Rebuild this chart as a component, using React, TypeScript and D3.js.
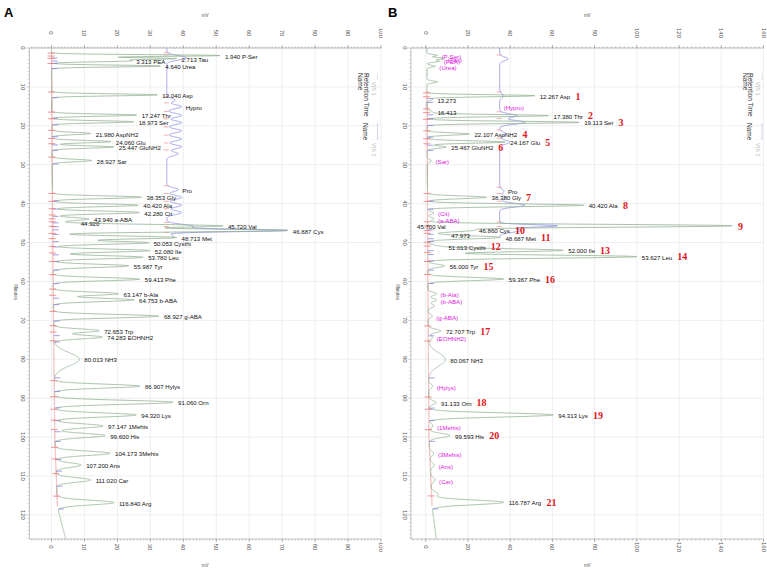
import React from "react";
import * as d3 from "d3";

// ---------- panel A : amino acid standard (VIS 1 peaks) ----------
const timesA = [1.94, 2.713, 3.313, 4.64, 12.04, 17.247, 18.973, 21.98, 24.06, 25.447, 28.927, 38.353, 40.42, 42.28, 43.94, 44.92, 45.72, 46.887, 48.713, 50.053, 52.08, 53.78, 55.987, 59.413, 63.147, 64.753, 68.927, 72.653, 74.283, 80.013, 86.907, 91.06, 94.32, 97.147, 99.6, 104.173, 107.2, 111.02, 116.84];
const namesA = ["P-Ser", "Tau", "PEA", "Urea", "Asp", "Thr", "Ser", "AspNH2", "Glu", "GluNH2", "Sar", "Gly", "Ala", "Cit", "a-ABA", "", "Val", "Cys", "Met", "Cysthi", "Ile", "Leu", "Tyr", "Phe", "b-Ala", "b-ABA", "g-ABA", "Trp", "EOHNH2", "NH3", "Hylys", "Orn", "Lys", "1Mehis", "His", "3Mehis", "Ans", "Car", "Arg"];
const heightsA = [51, 37, 23, 33, 32, 25.7, 24.8, 11.7, 17.8, 18.7, 12, 27, 26, 26.3, 11, 2, 51, 71, 37.5, 29, 29.4, 27.4, 23, 26.3, 19.8, 24.5, 32, 13.8, 14.7, 7.7, 26, 36, 24.8, 14.7, 15.3, 16.6, 7.7, 10.4, 17.2];

// VIS 2 channel of A
const timesVisA = [2.2, 2.75, 13.4, 15.1, 17.3, 19.2, 21.3, 23.4, 25.4, 27.2, 36.4, 38.4, 40.4, 42.3, 45.8, 46.9, 48.4];
const heightsVisA = [3, 4, 2.5, 4.5, 4.5, 4.5, 4.5, 4.5, 4.5, 3.5, 3.5, 4.5, 4.5, 4.5, 8, 36, 2];
const namesVisA = ["", "", "", "Hypro", "", "", "", "", "", "", "Pro", "", "", "", "", "", ""];

// baseline drift of A
const driftTimesA = [0, 60, 100, 118, 126.2];
const driftA = [0, 0.5, 1.0, 1.8, 4.3];

// ---------- panel B : sample ----------
const timesB = [12.267, 13.273, 16.413, 17.38, 19.113, 22.107, 24.167, 25.467, 38.38, 40.42, 45.7, 46.86, 47.973, 48.687, 51.013, 52.0, 53.627, 56.0, 59.367, 72.707, 80.067, 91.133, 94.313, 99.593, 116.787];
const namesB = ["Asp", "", "", "Thr", "Ser", "AspNH2", "Glu", "GluNH2", "Gly", "Ala", "Val", "Cys", "", "Met", "Cysthi", "Ile", "Leu", "Tyr", "Phe", "Trp", "NH3", "Orn", "Lys", "His", "Arg"];
const heightsB = [51, 2.5, 2.5, 57.5, 72, 20, 37, 9, 28, 74, 144, 21, 3, 34, 5, 64, 99, 8, 36, 6, 8, 3.5, 59, 10, 34];
const peakNoB = [1, 0, 0, 2, 3, 4, 5, 6, 7, 8, 9, 10, 0, 11, 12, 13, 14, 15, 16, 17, 0, 18, 19, 20, 21];

// small unlabelled bumps of B
const timesMinorB = [1.9, 2.7, 3.4, 4.7, 8.7, 29.0, 42.4, 43.9, 63.2, 64.8, 66.3, 68.9, 74.4, 86.9, 97.1, 104.2, 107.2, 111.0, 114.6];
const heightsMinorB = [5, 8, 6, 4, 5, 2, 3, 3, 4, 4, 3, 2, 2, 2, 2, 2, 2, 2, 3];

// compounds not found in B
const missingNamesB = ["P-Ser", "Tau", "PEA", "Urea", "Hypro", "Sar", "Cit", "a-ABA", "b-Ala", "b-ABA", "g-ABA", "EOHNH2", "Hylys", "1Mehis", "3Mehis", "Ans", "Car"];
const missingTimesB = [1.94, 2.713, 3.313, 4.64, 15.0, 28.927, 42.28, 43.94, 63.147, 64.753, 68.927, 74.283, 86.907, 97.147, 104.173, 107.2, 111.02];
const missingOnVisB = ["Hypro"];

// VIS 2 channel of B
const timesVisB = [2.8, 12.3, 17.4, 19.1, 22.1, 24.2, 36.8, 38.4, 40.4, 45.7, 46.9];
const heightsVisB = [4, 2, 8, 12, 3, 5, 2, 3, 12, 27, 10];
const namesVisB = ["", "", "", "", "", "", "Pro", "", "", "", ""];

const driftTimesB = [0, 60, 100, 118, 126.2];
const driftB = [0.5, 1, 1.5, 3, 5];

// label placed left of the axis instead of beside its apex
const leftLabelsB = ["Val"];

const VIS_OFFSET = 35;
const yT = d3.scaleLinear().domain([0, 126.2]).range([48, 539]);
const samples = d3.range(0, 126.2, 0.02);

type Peak = { t: number; h: number; name: string; no?: number };
type SigmaFn = (p: Peak) => number;

// VIS 1 peaks sharpen early and broaden later; NH3 is a wide hump
const sigmaVis1: SigmaFn = (p) => (p.name === "NH3" ? 1.7 : 0.22 + 0.0032 * p.t);
// VIS 2 is a slow ripple apart from its big peaks
const sigmaVis2: SigmaFn = (p) => (p.h > 20 ? 0.3 : 0.48);

const sumPeaks = (ps: Peak[], sig: SigmaFn, t: number) =>
  ps.reduce((s, p) => {
    const s2 = sig(p);
    const d = t - p.t;
    return Math.abs(d) > 6 * s2 ? s : s + p.h * Math.exp(-(d * d) / (2 * s2 * s2));
  }, 0);

let ctx: CanvasRenderingContext2D | null = null;
function textW(s: string, size: number) {
  if (!ctx && typeof document !== "undefined") ctx = document.createElement("canvas").getContext("2d");
  if (!ctx) return s.length * size * 0.5;
  ctx.font = `${size}px "Liberation Sans"`;
  return ctx.measureText(s).width;
}

type PanelProps = {
  id: string;
  letter: string;
  x: d3.ScaleLinear<number, number>;
  xStep: number;
  xMinor: number;
  clipX: [number, number];
  legendRight: number;
  peaks: Peak[];
  minor: Peak[];
  vis: Peak[];
  visEnd: number;
  drift: d3.ScaleLinear<number, number>;
  missing: { t: number; name: string; onVis: boolean }[];
  numbered: boolean;
};

function Panel(p: PanelProps) {
  const { x } = p;
  const [x0, x1] = x.range();
  const [y0, y1] = yT.range();
  const all = p.peaks.concat(p.minor);
  const green = (t: number) => p.drift(t) + sumPeaks(all, sigmaVis1, t);
  const blue = (t: number) => VIS_OFFSET + sumPeaks(p.vis, sigmaVis2, t);
  const line = (f: (t: number) => number) => d3.line<number>().x((t) => x(f(t))).y((t) => yT(t));

  const dom = x.domain();
  const major = d3.range(0, dom[1] + 0.01, p.xStep);
  const minor = d3.range(Math.ceil(dom[0] / p.xMinor) * p.xMinor, dom[1] + 0.01, p.xMinor);
  const tMajor = d3.range(0, 121, 10);
  const tMinor = d3.range(0, 126.2, 1);
  const font = "'Liberation Sans', Arial, sans-serif";
  const lsz = 6.1;
  const visSamples = samples.filter((t) => t <= p.visEnd);
  const baseStart = p.peaks[0].t - 1.2;
  const baseEnd = p.peaks[p.peaks.length - 1].t + 1;
  const baseT = samples.filter((t) => t >= baseStart && t <= baseEnd);
  const cx = (x0 + x1) / 2;
  const left = new Set(leftLabelsB);

  return (
    <g>
      <defs>
        <clipPath id={"clip" + p.id}>
          <rect x={p.clipX[0]} y={0} width={p.clipX[1] - p.clipX[0]} height={573} />
        </clipPath>
      </defs>
      <text x={p.clipX[0] + 4} y={17} fontFamily={font} fontWeight="bold" fontSize={13}>
        {p.letter}
      </text>
      <g clipPath={`url(#clip${p.id})`}>
        {/* grid */}
        {major.map((v) => (
          <line key={"gx" + v} x1={x(v)} x2={x(v)} y1={y0} y2={y1} stroke="#e4e4e4" strokeWidth={0.6} />
        ))}
        {tMajor.map((v) => (
          <line key={"gy" + v} x1={x0} x2={x1} y1={yT(v)} y2={yT(v)} stroke="#e4e4e4" strokeWidth={0.6} />
        ))}
        {/* axes */}
        <line x1={x0} x2={x1} y1={y0} y2={y0} stroke="#999" strokeWidth={0.6} />
        <line x1={x0} x2={x1} y1={y1} y2={y1} stroke="#999" strokeWidth={0.6} />
        <line x1={x0} x2={x0} y1={y0} y2={y1} stroke="#999" strokeWidth={0.6} />
        {minor.map((v) => (
          <g key={"mx" + v}>
            <line x1={x(v)} x2={x(v)} y1={y0} y2={y0 - 1.5} stroke="#999" strokeWidth={0.5} />
            <line x1={x(v)} x2={x(v)} y1={y1} y2={y1 + 1.5} stroke="#999" strokeWidth={0.5} />
          </g>
        ))}
        {major.map((v) => (
          <g key={"tx" + v} fill="#555" fontFamily={font} fontSize={6}>
            <line x1={x(v)} x2={x(v)} y1={y0} y2={y0 - 3} stroke="#888" strokeWidth={0.6} />
            <line x1={x(v)} x2={x(v)} y1={y1} y2={y1 + 3} stroke="#888" strokeWidth={0.6} />
            <text transform={`translate(${x(v)},33) rotate(90)`} textAnchor="middle" dominantBaseline="central">
              {v}
            </text>
            <text transform={`translate(${x(v)},547) rotate(90)`} textAnchor="middle" dominantBaseline="central">
              {v}
            </text>
          </g>
        ))}
        {tMinor.map((v) => (
          <line key={"mt" + v} x1={x0} x2={x0 - (v % 10 === 0 ? 3 : 1.5)} y1={yT(v)} y2={yT(v)} stroke="#999" strokeWidth={0.5} />
        ))}
        {tMajor.map((v) => (
          <text key={"tt" + v} transform={`translate(${x0 - 6},${yT(v)}) rotate(90)`} textAnchor="middle" dominantBaseline="central" fill="#555" fontFamily={font} fontSize={6}>
            {v}
          </text>
        ))}
        <text x={cx} y={17} textAnchor="middle" fontFamily={font} fontSize={4.5} fill="#555">mV</text>
        <text x={cx} y={567} textAnchor="middle" fontFamily={font} fontSize={4.5} fill="#555">mV</text>
        <text transform={`translate(${x0 - 15},292) rotate(90)`} textAnchor="middle" fontFamily={font} fontSize={4.5} fill="#555">
          Minutes
        </text>

        {/* legend */}
        <g fontFamily={font} fontSize={6.5} fill="#333">
          <text transform={`translate(${p.legendRight - 16},73) rotate(90)`} dominantBaseline="hanging">Name</text>
          <text transform={`translate(${p.legendRight - 10.5},73) rotate(90)`} dominantBaseline="hanging">Retention Time</text>
          <line x1={p.legendRight - 1.5} x2={p.legendRight - 1.5} y1={73} y2={80} stroke="#ccc" strokeWidth={0.6} />
          <text transform={`translate(${p.legendRight - 3.5},82) rotate(90)`} dominantBaseline="hanging" fill="#bbb" fontSize={5.5}>VIS 1</text>
          <text transform={`translate(${p.legendRight - 11.5},123) rotate(90)`} dominantBaseline="hanging">Name</text>
          <line x1={p.legendRight - 1.5} x2={p.legendRight - 1.5} y1={123} y2={140} stroke="#b8b8e8" strokeWidth={0.6} />
          <text transform={`translate(${p.legendRight - 3.5},143) rotate(90)`} dominantBaseline="hanging" fill="#bbb" fontSize={5.5}>VIS 2</text>
        </g>

        {/* VIS 2 trace */}
        <path d={line(blue)(visSamples) ?? ""} fill="none" stroke="#8a8ae6" strokeWidth={0.8} />
        {p.vis.map((v, i) => (
          <line key={"vm" + i} x1={x(VIS_OFFSET) - 3} x2={x(VIS_OFFSET) + 2} y1={yT(v.t - 1)} y2={yT(v.t - 1)} stroke="#f07878" strokeWidth={0.6} />
        ))}

        {/* integration baseline */}
        <path d={line(p.drift)(baseT) ?? ""} fill="none" stroke="#f08a8a" strokeWidth={0.7} />

        {/* VIS 1 trace */}
        <path d={line(green)(samples) ?? ""} fill="none" stroke="#93b393" strokeWidth={0.8} />

        {/* peak start / end markers */}
        {p.peaks.map((pk, i) => {
          const s = sigmaVis1(pk);
          const ts = pk.t - 2.8 * s;
          const te = pk.t + 2.8 * s;
          return (
            <g key={"pm" + i}>
              <line x1={x(p.drift(ts)) - 4} x2={x(p.drift(ts)) + 3} y1={yT(ts)} y2={yT(ts)} stroke="#f06464" strokeWidth={0.7} />
              <line x1={x(p.drift(te))} x2={x(p.drift(te)) + 6} y1={yT(te)} y2={yT(te)} stroke="#7a7ae0" strokeWidth={0.7} />
            </g>
          );
        })}

        {/* peak labels */}
        <g fontFamily={font} fontSize={lsz} fill="#111">
          {p.peaks.map((pk, i) => {
            const lbl = pk.t.toFixed(3) + (pk.name ? " " + pk.name : "");
            const ax = x(green(pk.t));
            const onLeft = p.numbered && left.has(pk.name);
            const lx = onLeft ? x0 + 6 : ax + 5;
            const nx = onLeft ? ax + 6 : lx + textW(lbl, lsz) + 5;
            const y = yT(pk.t) + 1.5;
            return (
              <g key={"lb" + i}>
                <text x={lx} y={y} dominantBaseline="middle">{lbl}</text>
                {p.numbered && pk.no ? (
                  <text x={nx} y={y} dominantBaseline="middle" fontFamily="'Liberation Serif', 'Times New Roman', serif" fontWeight="bold" fontSize={10} fill="#e3151b">
                    {pk.no}
                  </text>
                ) : null}
              </g>
            );
          })}
          {p.vis.filter((v) => v.name).map((v, i) => (
            <text key={"vl" + i} x={x(blue(v.t)) + 4} y={yT(v.t) + 1.5} dominantBaseline="middle">{v.name}</text>
          ))}
          {p.missing.map((m, i) => {
            const f = m.onVis ? blue : green;
            const near = d3.max(d3.range(m.t - 0.4, m.t + 0.4, 0.05), f) ?? 0;
            return (
              <text key={"ms" + i} x={x(near) + 4} y={yT(m.t) + 2} dominantBaseline="middle" fill="#e020e0">
                ({m.name})
              </text>
            );
          })}
        </g>
      </g>
    </g>
  );
}

export default function App() {
  const mk = (ts: number[], hs: number[], ns: string[], nos?: number[]): Peak[] =>
    ts.map((t, i) => ({ t, h: hs[i], name: ns[i] ?? "", no: nos ? nos[i] : 0 }));

  const xA = d3.scaleLinear().domain([-6.7, 100]).range([29.4, 381]);
  const xB = d3.scaleLinear().domain([-7, 160]).range([411, 763.5]);
  const driftScaleA = d3.scaleLinear().domain(driftTimesA).range(driftA);
  const driftScaleB = d3.scaleLinear().domain(driftTimesB).range(driftB);

  return (
    <svg width={767} height={573} style={{ position: "absolute", left: 0, top: 0, background: "#fff" }}>
      <rect width={767} height={573} fill="#fff" />
      <Panel
        id="A"
        letter="A"
        x={xA}
        xStep={10}
        xMinor={1}
        clipX={[0, 382.5]}
        legendRight={379}
        peaks={mk(timesA, heightsA, namesA)}
        minor={[]}
        vis={mk(timesVisA, heightsVisA, namesVisA)}
        visEnd={48.8}
        drift={driftScaleA}
        missing={[]}
        numbered={false}
      />
      <Panel
        id="B"
        letter="B"
        x={xB}
        xStep={20}
        xMinor={2}
        clipX={[384, 767]}
        legendRight={763.5}
        peaks={mk(timesB, heightsB, namesB, peakNoB)}
        minor={mk(timesMinorB, heightsMinorB, [])}
        vis={mk(timesVisB, heightsVisB, namesVisB)}
        visEnd={48.5}
        drift={driftScaleB}
        missing={missingNamesB.map((name, i) => ({ name, t: missingTimesB[i], onVis: missingOnVisB.includes(name) }))}
        numbered={true}
      />
    </svg>
  );
}
